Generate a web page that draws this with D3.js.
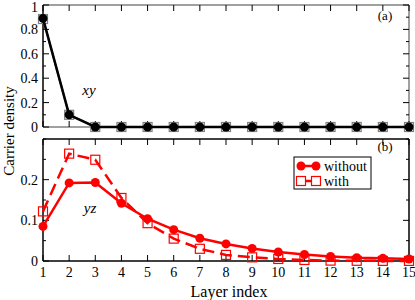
<!DOCTYPE html>
<html>
<head>
<meta charset="utf-8">
<script src="https://cdn.jsdelivr.net/npm/d3@7"></script>
<style>
body { margin:0; background:#fff; }
</style>
</head>
<body>
<div id="chart"></div>
<script>
// layer indices
var layers = [1,2,3,4,5,6,7,8,9,10,11,12,13,14,15];

// panel (a) xy
var xyWithout = [0.89,0.10,0,0,0,0,0,0,0,0,0,0,0,0,0];
var xyWith    = [0.885,0.10,0,0,0,0,0,0,0,0,0,0,0,0,0];

// panel (b) yz
var yzWithout = [0.085,0.192,0.193,0.142,0.104,0.077,0.056,0.042,0.031,0.022,0.016,0.011,0.008,0.0065,0.005];
var yzWith    = [0.122,0.264,0.249,0.155,0.093,0.055,0.030,0.015,0.009,0.005,0.0025,0.001,0.0005,0.0003,0.0002];

var xTicks = [1,2,3,4,5,6,7,8,9,10,11,12,13,14,15];
var aTicks = [0,0.2,0.4,0.6,0.8,1];
var bTicks = [0,0.1,0.2];

var FONT = "'Liberation Serif', 'DejaVu Serif', serif";
var W = 415, H = 300;
var svg = d3.select("#chart").append("svg").attr("width", W).attr("height", H)
  .attr("font-family", FONT);

var x = d3.scaleLinear().domain([1,15]).range([43,409]);
var ya = d3.scaleLinear().domain([0,1]).range([127,5]);
var yb = d3.scaleLinear().domain([0,0.3]).range([261,139]);

function frame(y, color, leftColor) {
  var y0 = y.range()[0], y1 = y.range()[1];
  svg.append("line").attr("x1",43).attr("x2",409).attr("y1",y1).attr("y2",y1).attr("stroke",color).attr("stroke-width",1.5);
  svg.append("line").attr("x1",409).attr("x2",409).attr("y1",y0).attr("y2",y1).attr("stroke",color).attr("stroke-width",1.5);
  svg.append("line").attr("x1",43).attr("x2",409).attr("y1",y0).attr("y2",y0).attr("stroke",color).attr("stroke-width",1.5);
  svg.append("line").attr("x1",43).attr("x2",43).attr("y1",y0).attr("y2",y1).attr("stroke",leftColor).attr("stroke-width",1.5);
}

function ticks(y, major, minorStep, showX) {
  var y0 = y.range()[0], y1 = y.range()[1];
  var g = svg.append("g").attr("stroke","#000").attr("stroke-width",1);
  // x ticks top & bottom
  xTicks.forEach(function(t){
    g.append("line").attr("x1",x(t)).attr("x2",x(t)).attr("y1",y1).attr("y2",y1+6);
    g.append("line").attr("x1",x(t)).attr("x2",x(t)).attr("y1",y0).attr("y2",y0-6);
  });
  var d = y.domain();
  var minor = d3.range(d[0], d[1]+1e-9, minorStep);
  minor.forEach(function(t){
    var isMajor = major.some(function(m){ return Math.abs(m-t)<1e-9; });
    var len = isMajor ? 6 : 3;
    g.append("line").attr("x1",43).attr("x2",43+len).attr("y1",y(t)).attr("y2",y(t));
    g.append("line").attr("x1",409).attr("x2",409-len).attr("y1",y(t)).attr("y2",y(t));
  });
  // keep the top label inside the window
  svg.append("g").selectAll("text").data(major).enter().append("text")
    .attr("x",38).attr("y",function(t){ return Math.max(y(t)+5, 12); })
    .attr("text-anchor","end").attr("font-size",14)
    .text(function(t){ return d3.format("")(+t.toFixed(2)); });
  if (showX) {
    svg.append("g").selectAll("text").data(xTicks).enter().append("text")
      .attr("x",function(t){ return x(t); }).attr("y",y0+16)
      .attr("text-anchor","middle").attr("font-size",14)
      .text(function(t){ return t; });
  }
}

frame(ya, "#808080", "#000");
frame(yb, "#000", "#000");
ticks(ya, aTicks, 0.1, false);
ticks(yb, bTicks, 0.05, true);

function series(y, vals, color, dash, marker, fillMarker, width) {
  var line = d3.line().x(function(d,i){ return x(layers[i]); }).y(function(d){ return y(d); });
  svg.append("path").datum(vals).attr("d",line).attr("fill","none")
    .attr("stroke",color).attr("stroke-width",width).attr("stroke-dasharray",dash);
  var g = svg.append("g");
  vals.forEach(function(v,i){
    if (marker === "circle") {
      g.append("circle").attr("cx",x(layers[i])).attr("cy",y(v)).attr("r",4.5).attr("fill",color);
    } else {
      g.append("rect").attr("x",x(layers[i])-4.5).attr("y",y(v)-4.5).attr("width",9).attr("height",9)
        .attr("fill", fillMarker ? color : "none").attr("stroke",color).attr("stroke-width",1.2);
    }
  });
}

// panel a
series(ya, xyWith, "#808080", null, "square", false, 2);
series(ya, xyWithout, "#000", null, "circle", true, 2.5);

// panel b
series(yb, yzWith, "#ff0000", "12,6", "square", false, 2.5);
series(yb, yzWithout, "#ff0000", null, "circle", true, 2.5);

// annotations
svg.append("text").attr("x",385).attr("y",20).attr("font-size",13).attr("text-anchor","middle").text("(a)");
svg.append("text").attr("x",385).attr("y",151).attr("font-size",13).attr("text-anchor","middle").text("(b)");
svg.append("text").attr("x",89).attr("y",95).attr("font-size",15).attr("font-style","italic").attr("text-anchor","middle").text("xy");
svg.append("text").attr("x",90).attr("y",213).attr("font-size",15).attr("font-style","italic").attr("text-anchor","middle").text("yz");

// legend
var lg = svg.append("g");
lg.append("rect").attr("x",294).attr("y",157).attr("width",77).attr("height",32).attr("fill","#fff").attr("stroke","#000").attr("stroke-width",1);
lg.append("line").attr("x1",301).attr("x2",316).attr("y1",166).attr("y2",166).attr("stroke","#ff0000").attr("stroke-width",2.5);
[301,316].forEach(function(cx){ lg.append("circle").attr("cx",cx).attr("cy",166).attr("r",4.5).attr("fill","#ff0000"); });
lg.append("line").attr("x1",301).attr("x2",316).attr("y1",181).attr("y2",181).attr("stroke","#ff0000").attr("stroke-width",2.5);
[301,316].forEach(function(cx){ lg.append("rect").attr("x",cx-4.5).attr("y",176.5).attr("width",9).attr("height",9).attr("fill","#fff").attr("stroke","#ff0000").attr("stroke-width",1.2); });
lg.append("text").attr("x",324).attr("y",171).attr("font-size",14).text("without");
lg.append("text").attr("x",324).attr("y",186).attr("font-size",14).text("with");

// axis titles
svg.append("text").attr("transform","translate(14,131) rotate(-90)").attr("text-anchor","middle").attr("font-size",15).text("Carrier density");
svg.append("text").attr("x",229).attr("y",297).attr("text-anchor","middle").attr("font-size",16).text("Layer index");
</script>
</body>
</html>
